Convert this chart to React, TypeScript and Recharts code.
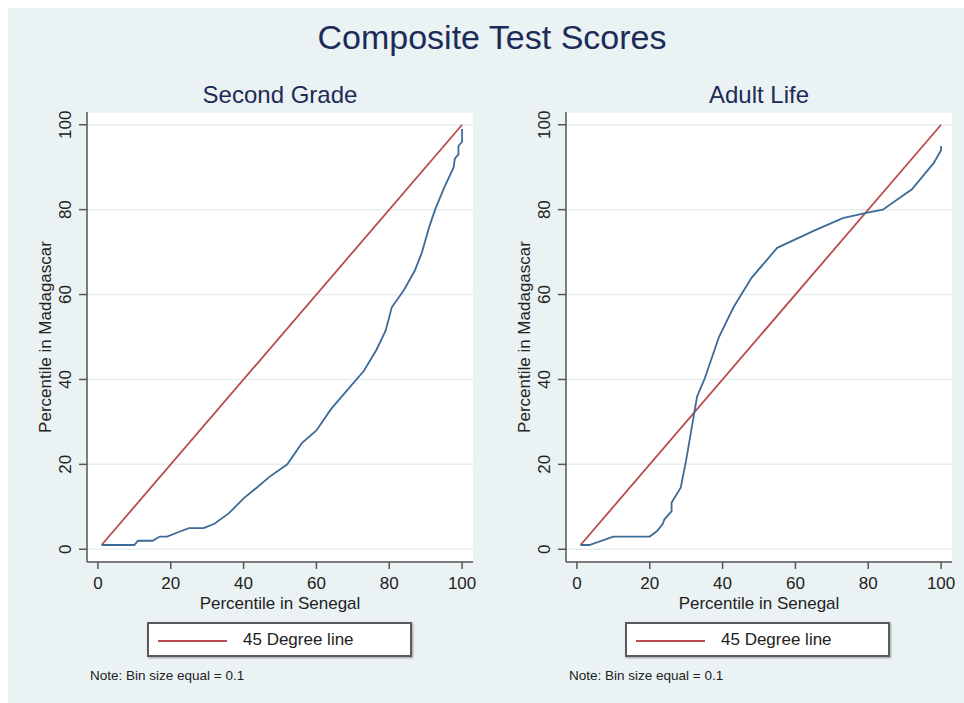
import React from 'react';
import { LineChart, Line, XAxis, YAxis, CartesianGrid } from 'recharts';

// tick values shared by both panels
const axisTicks = [0, 20, 40, 60, 80, 100];

// 45 degree reference line
const diagonalX = [1, 100];
const diagonalY = [1, 100];

// Second grade: percentile in Senegal vs percentile in Madagascar
const secondGradeX = [1, 10, 11, 15, 17, 19, 22, 25, 29, 32, 36, 40, 43.6, 47, 52, 56, 60, 64, 69, 73, 76.5, 79, 80.7, 84, 87, 89, 91, 92.6, 95, 97.7, 98, 99, 99, 100, 100];
const secondGradeY = [1, 1, 2, 2, 3, 3, 4, 5, 5, 6, 8.5, 12, 14.5, 17, 20, 25, 28, 33, 38, 42, 47, 51.5, 57, 61, 65.6, 70, 76, 80, 85, 90, 92, 93, 95, 96, 99];

// Adult life
const adultLifeX = [1, 3.4, 10, 20, 22, 23.6, 24, 26, 26, 28.5, 30, 32, 33, 35, 39, 43, 48, 55, 65, 73, 79.8, 84, 92, 98, 100, 100];
const adultLifeY = [1, 1, 3, 3, 4.3, 6, 7, 9, 11, 14.5, 21, 31, 36, 40, 50, 57, 64, 71, 75, 78, 79.3, 80, 84.8, 91, 94, 95];

const FONT = '"Liberation Sans", Arial, Helvetica, sans-serif';
const BG = '#eaf2f3';
const RED = '#b84c4b';
const BLUE = '#3d6b98';
const NAVY = '#1c2b57';

const toPoints = (xs: number[], ys: number[]) => xs.map((x, i) => ({ x, y: ys[i] }));

const RotatedTick = (props: any) => {
  const { x, y, payload } = props;
  return (
    <text
      x={x}
      y={y}
      transform={`rotate(-90, ${x}, ${y})`}
      textAnchor="middle"
      fill="#222"
      fontSize={17}
      fontFamily={FONT}
    >
      {payload.value}
    </text>
  );
};

interface PanelProps {
  left: number;
  width: number;
  marginLeft: number;
  marginRight: number;
  xs: number[];
  ys: number[];
}

const Panel: React.FC<PanelProps> = ({ left, width, marginLeft, marginRight, xs, ys }) => {
  const curve = toPoints(xs, ys);
  const diagonal = toPoints(diagonalX, diagonalY);
  return (
    <div style={{ position: 'absolute', left, top: 0 }}>
      <LineChart
        width={width}
        height={703}
        margin={{ top: 112, right: marginRight, left: marginLeft, bottom: 91 }}
      >
        <CartesianGrid vertical={false} stroke="#e6eff0" strokeWidth={1.5} fill="#ffffff" />
        <XAxis
          dataKey="x"
          type="number"
          domain={[-3, 103]}
          ticks={axisTicks}
          allowDataOverflow
          height={50}
          stroke="#555"
          strokeWidth={1.5}
          tickSize={7}
          tickMargin={8}
          tick={{ fill: '#222', fontSize: 17, fontFamily: FONT }}
          label={{
            value: 'Percentile in Senegal',
            position: 'insideBottom',
            offset: 3,
            style: { fill: '#222', fontSize: 17, fontFamily: FONT },
          }}
        />
        <YAxis
          dataKey="y"
          type="number"
          domain={[-3, 103]}
          ticks={axisTicks}
          allowDataOverflow
          width={57}
          stroke="#555"
          strokeWidth={1.5}
          tickSize={8}
          tickMargin={8}
          tick={<RotatedTick />}
          label={{
            value: 'Percentile in Madagascar',
            angle: -90,
            position: 'insideLeft',
            offset: 15,
            style: { fill: '#222', fontSize: 17, fontFamily: FONT, textAnchor: 'middle' },
          }}
        />
        <Line
          data={diagonal}
          dataKey="y"
          type="linear"
          stroke={RED}
          strokeWidth={1.8}
          dot={false}
          isAnimationActive={false}
        />
        <Line
          data={curve}
          dataKey="y"
          type="linear"
          stroke={BLUE}
          strokeWidth={1.8}
          dot={false}
          isAnimationActive={false}
        />
      </LineChart>
    </div>
  );
};

const centered = (cx: number, cy: number, size: number, color: string, text: string) => (
  <div
    style={{
      position: 'absolute',
      left: cx,
      top: cy,
      transform: 'translate(-50%, -50%)',
      whiteSpace: 'nowrap',
      fontFamily: FONT,
      fontSize: size,
      lineHeight: 1,
      color,
    }}
  >
    {text}
  </div>
);

const LegendBox: React.FC<{ left: number }> = ({ left }) => (
  <div
    style={{
      position: 'absolute',
      left,
      top: 622,
      width: 261,
      height: 31,
      background: '#fff',
      border: '2px solid #5a5a5a',
      boxShadow: '1px 1px 2px rgba(0,0,0,0.35)',
    }}
  >
    <div style={{ position: 'absolute', left: 9, top: 16, width: 69, height: 2, background: RED }} />
    <div
      style={{
        position: 'absolute',
        left: 94,
        top: 7,
        fontFamily: FONT,
        fontSize: 17,
        lineHeight: '18px',
        color: '#222',
        whiteSpace: 'nowrap',
      }}
    >
      45 Degree line
    </div>
  </div>
);

const Note: React.FC<{ left: number }> = ({ left }) => (
  <div
    style={{
      position: 'absolute',
      left,
      top: 668,
      fontFamily: FONT,
      fontSize: 13.5,
      color: '#222',
      whiteSpace: 'nowrap',
    }}
  >
    Note: Bin size equal = 0.1
  </div>
);

export default function App() {
  return (
    <div style={{ position: 'absolute', left: 0, top: 0, width: 964, height: 703, background: '#fff', overflow: 'hidden' }}>
      <div style={{ position: 'absolute', left: 8, top: 8, width: 956, height: 695, background: BG }} />
      {centered(492, 37, 34, NAVY, 'Composite Test Scores')}
      {centered(280, 95, 24, NAVY, 'Second Grade')}
      {centered(759, 95, 24, NAVY, 'Adult Life')}
      <Panel left={0} width={482} marginLeft={30} marginRight={9} xs={secondGradeX} ys={secondGradeY} />
      <Panel left={480} width={484} marginLeft={29} marginRight={12} xs={adultLifeX} ys={adultLifeY} />
      <LegendBox left={147} />
      <LegendBox left={625} />
      <Note left={90} />
      <Note left={569} />
    </div>
  );
}
